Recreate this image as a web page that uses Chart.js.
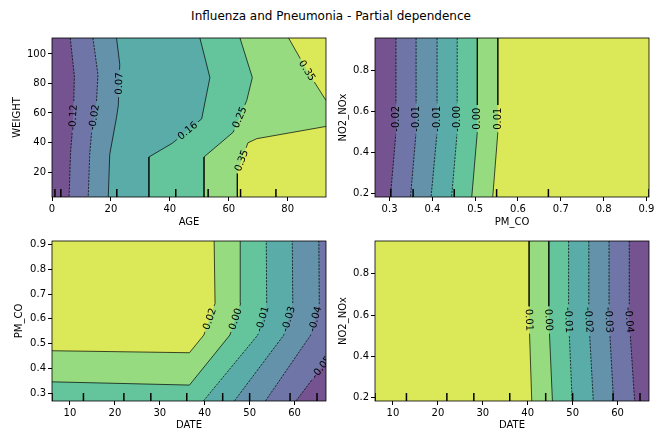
<!DOCTYPE html>
<html>
<head>
<meta charset="utf-8">
<script src="https://cdn.jsdelivr.net/npm/chart.js@4.4.1/dist/chart.umd.min.js"></script>
<style>
  html, body { margin: 0; padding: 0; background: #fff; }
  body { width: 662px; height: 431px; position: relative; overflow: hidden; font-family: 'DejaVu Sans', sans-serif; }
  #suptitle { position: absolute; left: 0; top: 9px; width: 662px; text-align: center; font-size: 12px; line-height: 14px; color: #000; }
  canvas { position: absolute; }
</style>
</head>
<body>
<div id="suptitle">Influenza and Pneumonia - Partial dependence</div>
<canvas id="ageWeight" width="331" height="200" style="left:0;top:30px"></canvas>
<canvas id="pmNox" width="331" height="200" style="left:331px;top:30px"></canvas>
<canvas id="datePm" width="331" height="205" style="left:0;top:230px"></canvas>
<canvas id="dateNox" width="331" height="205" style="left:331px;top:230px"></canvas>
<script>
const FONT = "'DejaVu Sans', sans-serif";
const LABEL_FONT = "10px 'DejaVu Sans', sans-serif";
Chart.defaults.font.family = FONT;

// viridis bands (alpha .75 on white), lowest to highest
const bandColors = ['#755290', '#6f75a6', '#6392aa', '#5aaca8', '#64c59d', '#96db7f', '#dbe857'];

// ---- AGE x WEIGHT ----
const ageRange = [0, 93];
const weightRange = [3.1, 110.8];
const ageTicks = [0, 20, 40, 60, 80];
const weightTicks = [20, 40, 60, 80, 100];
const ageDeciles = [1, 3, 22, 42, 53, 64, 76];
const ageWeightLevels = [-0.116, -0.023, 0.069, 0.161, 0.253, 0.346, 0.346];
const ageWeightPaths = [
  [[6.2, 110.8], [7.6, 85], [7.4, 68], [6.9, 48], [6.3, 33], [5.8, 3.1]],
  [[13.9, 110.8], [15.6, 86], [15.1, 68], [13.5, 48], [12.8, 32], [12.3, 3.1]],
  [[21.9, 110.8], [23.0, 93], [22.5, 65], [21.9, 57], [19.6, 32], [19.1, 3.1]],
  [[50.2, 110.8], [53.6, 84], [50.8, 56], [40.9, 39.6], [32.9, 30.2], [32.9, 3.1]],
  [[63.8, 110.8], [68.0, 84], [66.1, 68.5], [61.5, 47], [51.6, 30.2], [51.6, 3.1]],
  [[80.3, 110.8], [86.5, 89], [93, 68.5]],
  [[93, 50.9], [69.5, 42.6], [66.5, 39.8], [62.9, 20], [62.9, 3.1]]
];
const ageWeightClose = [['br', 'tr'], ['br', 'tr'], ['br', 'tr'], ['br', 'tr'], ['br', 'tr'], ['tr'], ['br']];
const ageWeightLabelAt = [[7.2, 57], [14.5, 57], [22.8, 80], [46, 48], [63.7, 57], [86, 88], [64, 28]];

// ---- PM_CO x NO2_NOx ----
const pmRange = [0.266, 0.906];
const noxRange = [0.183, 0.959];
const pmTicks = [0.3, 0.4, 0.5, 0.6, 0.7, 0.8, 0.9];
const noxTicks = [0.2, 0.4, 0.6, 0.8];
const pmDeciles = [0.303, 0.355, 0.451, 0.55, 0.671, 0.906];
const pmNoxLevels = [-0.018, -0.012, -0.007, -0.001, 0.004, 0.009];
const pmNoxPaths = [
  [[0.315, 0.959], [0.315, 0.5], [0.302, 0.183]],
  [[0.362, 0.959], [0.362, 0.5], [0.349, 0.183]],
  [[0.411, 0.959], [0.411, 0.5], [0.397, 0.183]],
  [[0.458, 0.959], [0.458, 0.5], [0.445, 0.183]],
  [[0.505, 0.959], [0.505, 0.5], [0.492, 0.183]],
  [[0.553, 0.959], [0.553, 0.5], [0.541, 0.183]]
];
const pmNoxClose = [['br', 'tr'], ['br', 'tr'], ['br', 'tr'], ['br', 'tr'], ['br', 'tr'], ['br', 'tr']];
const pmNoxLabelAt = [[0.315, 0.565], [0.362, 0.565], [0.411, 0.565], [0.458, 0.565], [0.505, 0.565], [0.553, 0.565]];

// ---- DATE x PM_CO ----
const dateRange = [6, 67];
const pmYRange = [0.27, 0.913];
const dateTicks = [10, 20, 30, 40, 50, 60];
const pmYTicks = [0.3, 0.4, 0.5, 0.6, 0.7, 0.8, 0.9];
const dateDeciles = [6, 13, 22, 28, 36, 44, 50, 59, 65];
const datePmLevels = [0.016, 0.002, -0.013, -0.027, -0.041, -0.054];
const datePmPaths = [
  [[6, 0.472], [36.6, 0.464], [39.8, 0.535], [42.3, 0.662], [42.1, 0.913]],
  [[6, 0.347], [36.6, 0.334], [45.6, 0.535], [48.0, 0.662], [47.9, 0.913]],
  [[39.7, 0.27], [51.8, 0.535], [53.8, 0.662], [53.7, 0.913]],
  [[46.6, 0.27], [57.6, 0.535], [59.6, 0.662], [59.5, 0.913]],
  [[53.5, 0.27], [63.6, 0.535], [65.5, 0.662], [65.4, 0.913]],
  [[60.3, 0.27], [67, 0.43]]
];
const datePmClose = [['tl'], ['tl'], ['tl', 'bl'], ['tl', 'bl'], ['tl', 'bl'], ['tr', 'tl', 'bl']];
const datePmLabelAt = [[41.1, 0.6], [46.8, 0.6], [52.8, 0.6], [58.6, 0.6], [64.5, 0.6], [66.0, 0.405]];

// ---- DATE x NO2_NOx ----
const dateNoxLevels = [0.011, 0.001, -0.009, -0.018, -0.028, -0.037];
const dateNoxPaths = [
  [[40.3, 0.959], [40.3, 0.58], [40.9, 0.183]],
  [[44.7, 0.959], [44.7, 0.58], [45.5, 0.183]],
  [[49.1, 0.959], [49.1, 0.58], [49.9, 0.183]],
  [[53.6, 0.959], [53.6, 0.58], [54.6, 0.183]],
  [[58.1, 0.959], [58.1, 0.58], [59.1, 0.183]],
  [[62.6, 0.959], [62.6, 0.58], [63.8, 0.183]]
];
const dateNoxClose = [['bl', 'tl'], ['bl', 'tl'], ['bl', 'tl'], ['bl', 'tl'], ['bl', 'tl'], ['bl', 'tl']];
const dateNoxLabelAt = [[40.3, 0.576], [44.7, 0.576], [49.1, 0.576], [53.6, 0.576], [58.1, 0.576], [62.6, 0.576]];

// where a contour label sits on its line, and how it is turned
function labelPlace(chart, ds) {
  const xs = chart.scales.x, ys = chart.scales.y;
  const pts = ds.data.map(p => [xs.getPixelForValue(p.x), ys.getPixelForValue(p.y)]);
  const ax = xs.getPixelForValue(ds.labelAt[0]), ay = ys.getPixelForValue(ds.labelAt[1]);
  let best = { d: Infinity };
  for (let i = 0; i < pts.length - 1; i++) {
    const [x1, y1] = pts[i], [x2, y2] = pts[i + 1];
    const dx = x2 - x1, dy = y2 - y1;
    const t = Math.max(0, Math.min(1, ((ax - x1) * dx + (ay - y1) * dy) / (dx * dx + dy * dy)));
    const qx = x1 + t * dx, qy = y1 + t * dy;
    const d = Math.hypot(ax - qx, ay - qy);
    if (d < best.d) best = { d, x: qx, y: qy, a: Math.atan2(dy, dx) };
  }
  const upright = a => (a > Math.PI / 2 ? a - Math.PI : a <= -Math.PI / 2 ? a + Math.PI : a);
  let a = upright(best.a);
  if (Math.abs(Math.abs(a) - Math.PI / 2) < 0.02) {
    // straight vertical piece: lean the text the way the whole line leans
    const f = pts[0], l = pts[pts.length - 1];
    a = Math.sign(upright(Math.atan2(l[1] - f[1], l[0] - f[0]))) * Math.PI / 2 || a;
  }
  chart.ctx.font = LABEL_FONT;
  return { x: best.x, y: best.y, a, w: chart.ctx.measureText(ds.labelText).width };
}

const contourLabels = {
  id: 'contourLabels',
  beforeDatasetDraw(chart, args) {
    const ds = chart.data.datasets[args.index];
    if (!ds.labelText) return;
    const g = labelPlace(chart, ds);
    const ctx = chart.ctx;
    const c = Math.cos(g.a), s = Math.sin(g.a);
    const hw = g.w / 2 + 2.5, hh = 6;
    ctx.save();
    ctx.beginPath();
    ctx.rect(0, 0, chart.width, chart.height);
    [[-hw, -hh], [hw, -hh], [hw, hh], [-hw, hh]].forEach(([u, v], k) => {
      const px = g.x + u * c - v * s, py = g.y + u * s + v * c;
      if (k) ctx.lineTo(px, py); else ctx.moveTo(px, py);
    });
    ctx.closePath();
    ctx.clip('evenodd');
  },
  afterDatasetDraw(chart, args) {
    if (chart.data.datasets[args.index].labelText) chart.ctx.restore();
  },
  afterDatasetsDraw(chart) {
    const ctx = chart.ctx, area = chart.chartArea;
    ctx.save();
    ctx.beginPath();
    ctx.rect(area.left, area.top, area.right - area.left, area.bottom - area.top);
    ctx.clip();
    chart.data.datasets.forEach(ds => {
      if (!ds.labelText) return;
      const g = labelPlace(chart, ds);
      ctx.save();
      ctx.translate(g.x, g.y);
      ctx.rotate(g.a);
      ctx.font = LABEL_FONT;
      ctx.fillStyle = '#000';
      ctx.textAlign = 'center';
      ctx.textBaseline = 'middle';
      ctx.fillText(ds.labelText, 0, 0.5);
      ctx.restore();
    });
    ctx.restore();
    // axes frame
    ctx.save();
    ctx.strokeStyle = '#000';
    ctx.lineWidth = 0.8;
    ctx.strokeRect(area.left, area.top, area.right - area.left, area.bottom - area.top);
    ctx.restore();
  }
};

function axis(range, ticks, title, size, titlePad, isX) {
  return {
    type: 'linear',
    min: range[0],
    max: range[1],
    afterBuildTicks: s => { s.ticks = ticks.map(v => ({ value: v })); },
    afterFit: s => { if (isX) s.height = size; else s.width = size; },
    ticks: { autoSkip: false, maxRotation: 0, padding: 2, color: '#000', font: { size: 10 }, callback: v => String(v) },
    grid: { drawOnChartArea: false, drawTicks: true, tickLength: 4, tickColor: '#000', tickWidth: 1 },
    border: { display: false },
    title: {
      display: true, text: title, color: '#000', font: { size: 10 },
      padding: isX ? { top: 0, bottom: titlePad } : { top: titlePad, bottom: 0 }
    }
  };
}

function contourPanel(id, p) {
  const [x0, x1] = p.xRange, [y0, y1] = p.yRange;
  const corner = { tl: [x0, y1], tr: [x1, y1], bl: [x0, y0], br: [x1, y0] };
  const toXY = pts => pts.map(([x, y]) => ({ x, y }));
  const uniq = [...new Set(p.levels)].sort((a, b) => a - b);
  const fillSet = (pts, color) => ({
    data: toXY(pts), showLine: true, fill: 'shape', backgroundColor: color,
    borderColor: 'transparent', borderWidth: 0, pointRadius: 0, pointHoverRadius: 0
  });

  const datasets = [fillSet([corner.bl, corner.br, corner.tr, corner.tl], bandColors[0])];
  // each region above a level, painted from the lowest level up
  p.levels.map((v, i) => i).sort((a, b) => p.levels[a] - p.levels[b]).forEach(i => {
    const poly = p.paths[i].concat(p.close[i].map(k => corner[k]));
    datasets.push(fillSet(poly, bandColors[uniq.indexOf(p.levels[i]) + 1]));
  });
  p.paths.forEach((path, i) => datasets.push({
    data: toXY(path), showLine: true, fill: false,
    borderColor: '#000', borderWidth: 0.7, borderDash: p.levels[i] < 0 ? [2.2, 1.2] : [],
    pointRadius: 0, pointHoverRadius: 0,
    labelText: p.levels[i].toFixed(2), labelAt: p.labelAt[i]
  }));
  // decile rug along the bottom
  const rugTop = y0 + 0.05 * (y1 - y0);
  p.deciles.forEach(d => datasets.push({
    data: [{ x: d, y: y0 }, { x: d, y: rugTop }], showLine: true, fill: false,
    borderColor: '#000', borderWidth: 1.5, pointRadius: 0, pointHoverRadius: 0
  }));
  datasets.forEach((ds, i) => { ds.order = datasets.length - i; });

  new Chart(document.getElementById(id), {
    type: 'scatter',
    data: { datasets },
    options: {
      responsive: false,
      animation: false,
      devicePixelRatio: 1,
      events: [],
      layout: { padding: p.padding },
      plugins: { legend: { display: false }, tooltip: { enabled: false } },
      scales: {
        x: axis(p.xRange, p.xTicks, p.xTitle, p.xSize, p.xTitlePad, true),
        y: axis(p.yRange, p.yTicks, p.yTitle, p.ySize, p.yTitlePad, false)
      }
    },
    plugins: [contourLabels]
  });
}

contourPanel('ageWeight', {
  xRange: ageRange, yRange: weightRange, xTicks: ageTicks, yTicks: weightTicks, deciles: ageDeciles,
  levels: ageWeightLevels, paths: ageWeightPaths, close: ageWeightClose, labelAt: ageWeightLabelAt,
  xTitle: 'AGE', yTitle: 'WEIGHT',
  padding: { top: 7, right: 5, left: 0, bottom: 0 }, xSize: 33, ySize: 52, xTitlePad: 1.7, yTitlePad: 11
});
contourPanel('pmNox', {
  xRange: pmRange, yRange: noxRange, xTicks: pmTicks, yTicks: noxTicks, deciles: pmDeciles,
  levels: pmNoxLevels, paths: pmNoxPaths, close: pmNoxClose, labelAt: pmNoxLabelAt,
  xTitle: 'PM_CO', yTitle: 'NO2_NOx',
  padding: { top: 7, right: 13, left: 0, bottom: 0 }, xSize: 33, ySize: 44, xTitlePad: 1.7, yTitlePad: 6.3
});
contourPanel('datePm', {
  xRange: dateRange, yRange: pmYRange, xTicks: dateTicks, yTicks: pmYTicks, deciles: dateDeciles,
  levels: datePmLevels, paths: datePmPaths, close: datePmClose, labelAt: datePmLabelAt,
  xTitle: 'DATE', yTitle: 'PM_CO',
  padding: { top: 11, right: 5, left: 0, bottom: 0 }, xSize: 34, ySize: 52, xTitlePad: 3.3, yTitlePad: 13.5
});
contourPanel('dateNox', {
  xRange: dateRange, yRange: noxRange, xTicks: dateTicks, yTicks: noxTicks, deciles: dateDeciles,
  levels: dateNoxLevels, paths: dateNoxPaths, close: dateNoxClose, labelAt: dateNoxLabelAt,
  xTitle: 'DATE', yTitle: 'NO2_NOx',
  padding: { top: 11, right: 13, left: 0, bottom: 0 }, xSize: 34, ySize: 44, xTitlePad: 3.3, yTitlePad: 6.3
});
</script>
</body>
</html>
